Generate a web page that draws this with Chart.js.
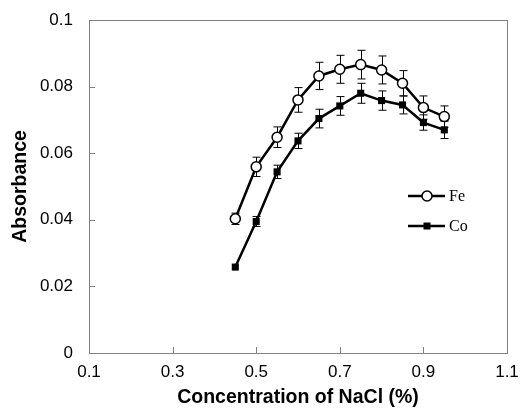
<!DOCTYPE html>
<html><head><meta charset="utf-8">
<script src="https://cdn.jsdelivr.net/npm/chart.js@4/dist/chart.umd.min.js"></script>
<style>html,body{margin:0;padding:0;background:#fff}#wrap{width:520px;height:412px}</style>
</head><body><div id="wrap"><canvas id="c" width="520" height="412"></canvas></div>
<script>
const concentrations = [0.45,0.5,0.55,0.6,0.65,0.7,0.75,0.8,0.85,0.9,0.95];
const feValues = [0.0403,0.0559,0.0648,0.0760,0.0832,0.0852,0.0866,0.0850,0.0810,0.0737,0.0710];
const feErrors = [0.0017,0.0029,0.0031,0.0037,0.0041,0.0042,0.0043,0.0042,0.0038,0.0035,0.0032];
const coValues = [0.0258,0.0395,0.0544,0.0637,0.0704,0.0742,0.0780,0.0758,0.0745,0.0692,0.0670];
const coErrors = [0,0.0015,0.0020,0.0023,0.0028,0.0028,0.0030,0.0029,0.0027,0.0023,0.0026];
const xTickLabels = ['0.1','0.3','0.5','0.7','0.9','1.1'];
const yTickLabels = ['0','0.02','0.04','0.06','0.08','0.1'];
const seriesNames = ['Fe','Co'];

const toXY = vals => concentrations.map((x,i)=>({x:x,y:vals[i]}));

const errorBarPlugin = {
  id:'errbars',
  beforeDatasetsDraw(chart){
    const ctx = chart.ctx, xs = chart.scales.x, ys = chart.scales.y;
    const a = chart.chartArea;
    ctx.save();
    ctx.strokeStyle = '#808080'; ctx.lineWidth = 1;
    ctx.strokeRect(Math.round(a.left)+0.5, Math.round(a.top)+0.5, Math.round(a.right-a.left), Math.round(a.bottom-a.top));
    ctx.beginPath();
    xs.ticks.forEach(t=>{
      const px = Math.round(xs.getPixelForValue(t.value))+0.5;
      ctx.moveTo(px,a.bottom); ctx.lineTo(px,a.bottom-6);
    });
    ys.ticks.forEach(t=>{
      const py = Math.round(ys.getPixelForValue(t.value))+0.5;
      ctx.moveTo(a.left,py); ctx.lineTo(a.left+6,py);
    });
    ctx.stroke();
    const sets = [[feValues,feErrors],[coValues,coErrors]];
    ctx.strokeStyle = '#000'; ctx.lineWidth = 1;
    sets.forEach(([v,e])=>{
      concentrations.forEach((c,i)=>{
        if(!e[i]) return;
        const px = Math.round(xs.getPixelForValue(c))+0.5;
        const top = ys.getPixelForValue(v[i]+e[i]);
        const bot = ys.getPixelForValue(v[i]-e[i]);
        ctx.beginPath();
        ctx.moveTo(px,top); ctx.lineTo(px,bot);
        ctx.moveTo(px-4,top); ctx.lineTo(px+4,top);
        ctx.moveTo(px-4,bot); ctx.lineTo(px+4,bot);
        ctx.stroke();
      });
    });
    ctx.restore();
  },
  afterDraw(chart){
    const ctx = chart.ctx;
    ctx.save();
    const items = [
      {name:seriesNames[0], y:196, style:'circle'},
      {name:seriesNames[1], y:226, style:'rect'}
    ];
    items.forEach(it=>{
      ctx.strokeStyle='#000'; ctx.lineWidth=2.5;
      ctx.beginPath(); ctx.moveTo(408,it.y); ctx.lineTo(445,it.y); ctx.stroke();
      if(it.style==='circle'){
        ctx.fillStyle='#fff'; ctx.lineWidth=1.5;
        ctx.beginPath(); ctx.arc(427,it.y,5,0,Math.PI*2); ctx.fill(); ctx.stroke();
      } else {
        ctx.fillStyle='#000';
        ctx.fillRect(423.5,it.y-3.5,7,7);
      }
      ctx.fillStyle='#000';
      ctx.font='16px "Liberation Serif", serif';
      ctx.textBaseline='middle'; ctx.textAlign='left';
      ctx.fillText(it.name,449,it.y+1);
    });
    ctx.restore();
  }
};

new Chart(document.getElementById('c'),{
  type:'line',
  data:{datasets:[
    {label:seriesNames[0], data:toXY(feValues), borderColor:'#000', borderWidth:2.5,
     pointStyle:'circle', pointRadius:5, pointBackgroundColor:'#fff', pointBorderColor:'#000',
     pointBorderWidth:1.5, tension:0},
    {label:seriesNames[1], data:toXY(coValues), borderColor:'#000', borderWidth:2.5,
     pointStyle:'rect', pointRadius:5, pointBackgroundColor:'#000', pointBorderColor:'#000',
     pointBorderWidth:0, tension:0}
  ]},
  options:{
    responsive:false, animation:false, devicePixelRatio:1,
    layout:{padding:0},
    plugins:{legend:{display:false}, tooltip:{enabled:false}},
    scales:{
      x:{type:'linear', min:0.1, max:1.1,
        afterBuildTicks(s){ s.ticks = xTickLabels.map(l=>({value:parseFloat(l)})); },
        afterFit(s){ s.height = 59; s.paddingLeft = 0; s.paddingRight = 13; },
        grid:{display:false, drawTicks:false},
        border:{display:false},
        ticks:{padding:9, color:'#000', font:{family:'"Liberation Sans", Arial, sans-serif', size:17},
          callback:(v,i)=>xTickLabels[i]},
        title:{display:true, text:'Concentration of NaCl (%)', color:'#000',
          font:{family:'"Liberation Sans", Arial, sans-serif', size:19.5, weight:'bold'}, padding:{top:0,bottom:3}}
      },
      y:{type:'linear', min:0, max:0.1,
        afterBuildTicks(s){ s.ticks = yTickLabels.map(l=>({value:parseFloat(l)})); },
        afterFit(s){ s.width = 89; s.paddingTop = 20; s.paddingBottom = 0; },
        grid:{display:false, drawTicks:false},
        border:{display:false},
        ticks:{padding:16, color:'#000', font:{family:'"Liberation Sans", Arial, sans-serif', size:17},
          callback:(v,i)=>yTickLabels[i]},
        title:{display:true, text:'Absorbance', color:'#000',
          font:{family:'"Liberation Sans", Arial, sans-serif', size:19.5, weight:'bold'}, padding:{top:9,bottom:0}}
      }
    }
  },
  plugins:[errorBarPlugin]
});
</script></body></html>
